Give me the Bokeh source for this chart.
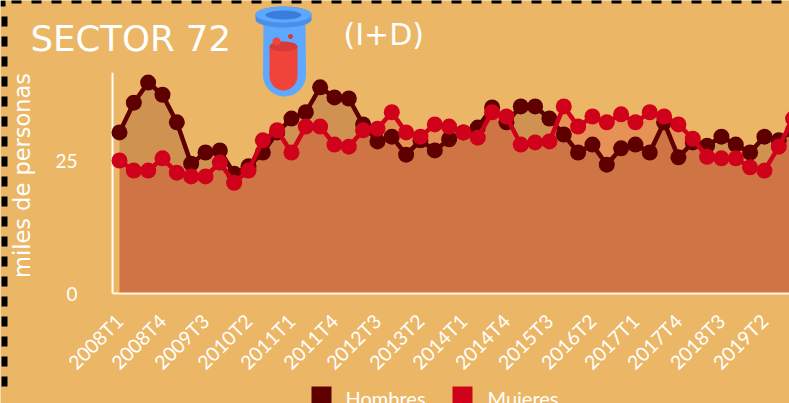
import numpy as np
from bokeh.plotting import figure
from bokeh.models import ColumnDataSource, FixedTicker, Range1d, Label, Span, InlineStyleSheet
from bokeh.embed import file_html
from bokeh.resources import INLINE

hombres = [30.4,36.0,39.8,37.5,32.3,24.5,26.6,27.0,22.6,24.0,26.6,30.4,33.0,34.2,38.9,37.0,36.8,31.9,28.7,29.6,
           26.2,28.9,27.0,29.1,30.4,31.3,35.1,32.3,35.3,35.3,33.0,30.0,26.6,28.1,24.3,27.4,28.1,26.6,32.3,25.7,
           28.5,27.9,29.6,28.1,26.6,29.6,28.9,30.8]
mujeres = [25.1,23.2,23.2,25.5,22.8,22.1,22.1,24.7,20.9,23.2,28.9,30.8,26.6,31.5,31.5,28.1,27.7,30.8,31.1,34.2,
           30.4,29.6,31.9,31.5,30.4,29.4,34.2,33.4,28.1,28.5,28.7,35.3,31.5,33.4,32.3,33.8,32.3,34.2,33.4,31.9,
           29.2,25.8,25.5,25.5,23.8,23.2,27.7,33.0]
periods = [f"{y}T{q}" for y in range(2008, 2020) for q in range(1, 5)]
tick_every = 3
y_ticks = [0, 25]
series_names = ["Hombres", "Mujeres"]

BG = "#EBB766"; DARK = "#5F0000"; RED = "#D0021B"
x = list(range(len(hombres)))
src = ColumnDataSource(dict(x=x, h=hombres, m=mujeres, z=[0]*len(x)))
HOST = ":host{position:absolute !important;left:0;top:0}"

# ---------- backdrop: page-pixel coordinates for the decoration, titles and legend ----------
bg = figure(width=789, height=403, output_backend="svg", toolbar_location=None,
            x_range=Range1d(0, 789), y_range=Range1d(403, 0),
            min_border=0, background_fill_color=BG, border_fill_color=BG, outline_line_color=None)
bg.stylesheets = [InlineStyleSheet(css=HOST)]
bg.axis.visible = False
bg.grid.visible = False

def ell(cx, cy, rx, ry, a0=0, a1=2*np.pi, n=60):
    t = np.linspace(a0, a1, n)
    return (cx + rx*np.cos(t)).tolist(), (cy + ry*np.sin(t)).tolist()

def text(txt, xx, yy, size, font="DejaVu Sans", angle=0, align="left", baseline="middle"):
    bg.add_layout(Label(x=xx, y=yy, text=txt, text_color="white", text_font=font, text_font_size=size,
                        text_baseline=baseline, text_align=align, angle=angle))

# test tube
tb_x, tb_y = ell(284, 74, 21.5, 22, 0, np.pi)
bg.patch([263, 305] + tb_x, [20, 20] + tb_y, fill_color="#5EA9FF", line_color=None)
lq_x, lq_y = ell(283, 75, 14, 15, 0, np.pi)
bg.patch([269, 297] + lq_x, [46, 46] + lq_y, fill_color="#F0433A", line_color=None)
for (cx, cy, rx, ry, col) in [(283, 46, 14, 5, "#D63B3A"), (276, 41, 4, 4, "#F0433A"), (290, 36, 2.5, 2.5, "#D63B3A")]:
    ex, ey = ell(cx, cy, rx, ry)
    bg.patch(ex, ey, fill_color=col, line_color=None)
x1, y1 = ell(283, 19, 28, 8, 0, np.pi)
x2, y2 = ell(283, 14, 28, 8, np.pi, 2*np.pi)
bg.patch(x1 + x2, y1 + y2, fill_color="#4A90E8", line_color=None)
ex, ey = ell(283, 14, 28, 8)
bg.patch(ex, ey, fill_color="#5EA9FF", line_color=None)
ex, ey = ell(283, 14.5, 18, 4.5)
bg.patch(ex, ey, fill_color="#3B7DDD", line_color=None)

# dashed frame (only its top and left sides fall inside the picture)
bg.line([11, 800], [0, 0], line_color="black", line_width=6, line_dash="10 10")
bg.line([4, 4], [16, 390], line_color="black", line_width=6, line_dash="10 10")
bg.patch([0, 5, 5, 0], [0, 0, 6, 6], fill_color="black", line_color=None)

# titles
text("SECTOR 72", 30, 38, "35.5px")
text("(I+D)", 343, 34, "30px")
text("miles de personas", 21, 175, "22.5px", angle=np.pi/2, align="center")

# legend
bg.patch([311, 331, 331, 311], [386, 386, 406, 406], fill_color=DARK, line_color=None)
bg.patch([452, 472, 472, 452], [386, 386, 406, 406], fill_color=RED, line_color=None)
text(series_names[0], 345, 397, "20px", font="Lato")
text(series_names[1], 487, 397, "20px", font="Lato")

# ---------- chart: transparent figure on top ----------
p = figure(width=789, height=403, output_backend="svg", toolbar_location=None,
           x_range=Range1d(-1.047, 46.75), y_range=Range1d(0, 41.7),
           min_border_left=104, min_border_right=0, min_border_top=72, min_border_bottom=110,
           background_fill_color=None, border_fill_color=None, outline_line_color=None)
p.stylesheets = [InlineStyleSheet(css=HOST)]
p.grid.visible = False

ax = p.xaxis[0]
ax.ticker = FixedTicker(ticks=x[::tick_every])
ax.major_label_overrides = {i: periods[i] for i in x[::tick_every]}
ax.major_label_orientation = np.pi/4
ax.major_label_text_color = "white"
ax.major_label_text_font = "Lato"
ax.major_label_text_font_size = "19.5px"
ax.major_label_standoff = 18
ax.major_tick_line_color = None
ax.minor_tick_line_color = None
ax.axis_line_color = "#FFF5E6"
ax.axis_line_width = 2
ax.bounds = (-0.488, 47)

ay = p.yaxis[0]
ay.ticker = FixedTicker(ticks=y_ticks)
ay.major_label_text_color = "white"
ay.major_label_text_font = "Lato"
ay.major_label_text_font_size = "19px"
ay.major_label_standoff = 21
ay.major_tick_line_color = None
ay.minor_tick_line_color = None
ay.axis_line_color = None

p.add_layout(Span(location=-0.488, dimension="height", line_color="white", line_width=2, level="underlay"))

p.varea(x="x", y1="z", y2="h", source=src, fill_color=DARK, fill_alpha=0.2)
p.varea(x="x", y1="z", y2="m", source=src, fill_color=RED, fill_alpha=0.2)
p.line(x="x", y="h", source=src, line_color=DARK, line_width=4.5)
p.scatter(x="x", y="h", source=src, size=16, fill_color=DARK, line_color=DARK, line_width=0)
p.line(x="x", y="m", source=src, line_color=RED, line_width=4.5)
p.scatter(x="x", y="m", source=src, size=16, fill_color=RED, line_color=RED, line_width=0)

open("out.html", "w").write(file_html([bg, p], INLINE))
